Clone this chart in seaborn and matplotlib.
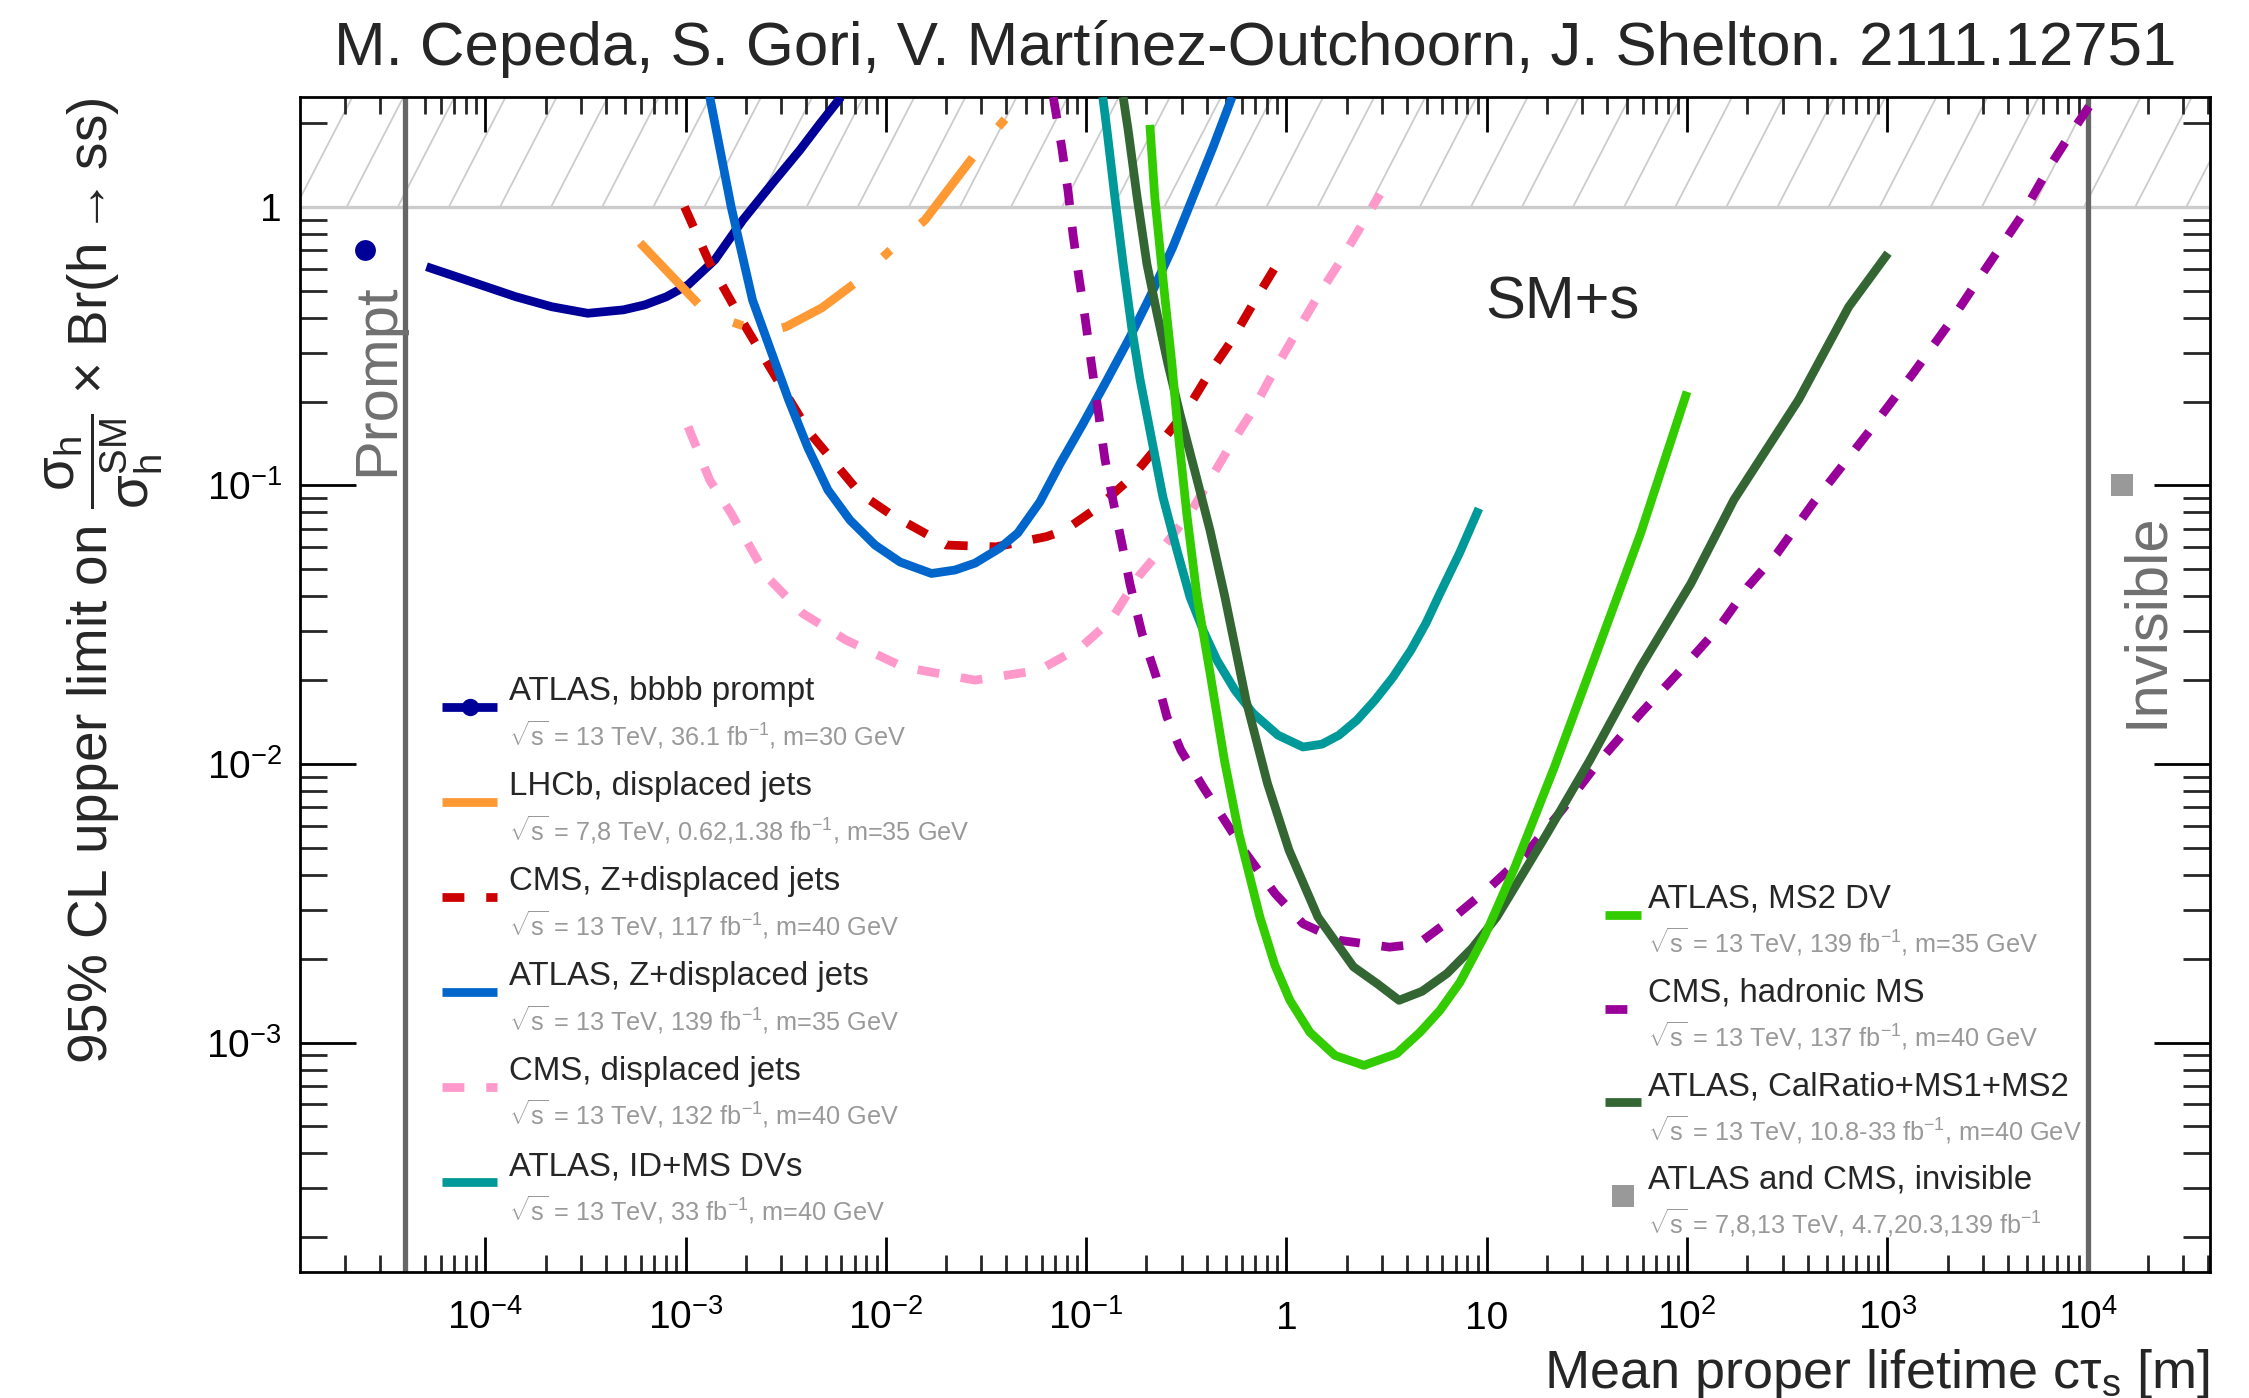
import numpy as np
import pandas as pd
import matplotlib
matplotlib.use("Agg")
import matplotlib.pyplot as plt
import seaborn as sns
from matplotlib.lines import Line2D
from matplotlib.collections import LineCollection
from matplotlib.legend_handler import HandlerLine2D
from matplotlib import ticker

# ------------------------------------------------------------------
# 95% CL upper limits on sigma_h/sigma_h^SM x Br(h -> ss) vs c*tau_s [m]
# ------------------------------------------------------------------
atlas_bbbb_ctau = [5.09e-5, 8.0e-5, 1.42e-4, 2.15e-4, 3.25e-4, 4.9e-4, 6.27e-4, 8.04e-4,
                   1.03e-3, 1.40e-3, 1.934e-3, 2.70e-3, 3.725e-3, 4.69e-3, 5.97e-3]
atlas_bbbb_lim = [0.61, 0.547, 0.476, 0.438, 0.415, 0.427, 0.445, 0.476,
                  0.525, 0.645, 0.898, 1.21, 1.60, 1.99, 2.48]
atlas_bbbb_prompt_ctau = [2.5e-5]
atlas_bbbb_prompt_lim = [0.70]

lhcb_ctau = [5.93e-4, 1.17e-3, 1.49e-3, 2.09e-3, 2.63e-3, 3.17e-3, 4.79e-3, 7.15e-3,
             1.03e-2, 1.57e-2, 2.78e-2, 4.17e-2]
lhcb_lim = [0.743, 0.445, 0.399, 0.3675, 0.359, 0.371, 0.434, 0.538,
            0.689, 0.898, 1.54, 2.17]

cms_zdj_ctau = [9.89e-4, 1.32e-3, 1.99e-3, 2.88e-3, 4.18e-3, 7.43e-3, 1.04e-2, 2.0e-2,
                3.55e-2, 6.34e-2, 7.84e-2, 0.1148, 0.169, 0.233, 0.318, 0.406, 0.535,
                0.681, 0.898, 1.0]
cms_zdj_lim = [1.0, 0.628, 0.372, 0.239, 0.154, 0.0937, 0.0794, 0.0611,
               0.0602, 0.0655, 0.0691, 0.0836, 0.107, 0.141, 0.1866, 0.249, 0.333,
               0.449, 0.624, 0.672]

atlas_zdj_ctau = [1.32e-3, 1.69e-3, 2.16e-3, 3.27e-3, 4.087e-3, 5.14e-3, 6.62e-3, 8.83e-3,
                  1.177e-2, 1.69e-2, 2.213e-2, 2.786e-2, 3.71e-2, 4.56e-2, 5.87e-2,
                  7.38e-2, 9.62e-2, 0.127, 0.1655, 0.208, 0.271, 0.3415, 0.43, 0.535]
atlas_zdj_lim = [2.49, 1.0, 0.463, 0.203, 0.1362, 0.0963, 0.0751, 0.0611,
                 0.0531, 0.0483, 0.0497, 0.0526, 0.0596, 0.0675, 0.0872,
                 0.119, 0.166, 0.239, 0.341, 0.475, 0.718, 1.086, 1.64, 2.48]

cms_dj_ctau = [1.03e-3, 1.32e-3, 1.69e-3, 2.55e-3, 3.85e-3, 6.3e-3, 1.22e-2, 2.78e-2,
               5.8e-2, 9.5e-2, 0.133, 0.182, 0.247, 0.337, 0.415, 0.532, 0.681, 0.872,
               1.115, 1.43, 1.83, 2.35, 2.93]
cms_dj_lim = [0.1625, 0.1046, 0.0794, 0.047, 0.0347, 0.0279, 0.0223, 0.020,
              0.0217, 0.0264, 0.0328, 0.047, 0.061, 0.0816, 0.1046, 0.1416, 0.1865, 0.26,
              0.352, 0.476, 0.628, 0.85, 1.11]

atlas_idms_ctau = [0.121, 0.127, 0.139, 0.153, 0.1694, 0.186, 0.208, 0.2417, 0.2838,
                   0.33, 0.3873, 0.4494, 0.553, 0.680, 0.9067, 1.208, 1.503, 1.828,
                   2.247, 2.764, 3.401, 4.182, 4.970, 5.836, 7.345, 9.137]
atlas_idms_lim = [2.48, 1.89, 1.086, 0.624, 0.3615, 0.239, 0.158, 0.0908, 0.0586,
                  0.0397, 0.02974, 0.0236, 0.01841, 0.01522, 0.01269, 0.01151, 0.01178,
                  0.01269, 0.01437, 0.01695, 0.0205, 0.02563, 0.03203, 0.04096, 0.05764,
                  0.0827]

atlas_ms2_ctau = [0.208, 0.22, 0.233, 0.247, 0.268, 0.287, 0.318, 0.358, 0.4147, 0.4898,
                  0.5787, 0.7368, 0.8754, 1.040, 1.309, 1.745, 2.435, 3.547, 4.636, 5.836,
                  7.345, 9.79, 13.82, 21.77, 35.7, 58.6, 99.9]
atlas_ms2_lim = [1.97, 1.086, 0.718, 0.475, 0.273, 0.158, 0.0789, 0.0397, 0.02137, 0.01032,
                 0.005629, 0.002824, 0.001894, 0.001418, 0.001088, 0.000899, 0.000828,
                 0.000912, 0.001088, 0.001305, 0.001645, 0.002427, 0.004271, 0.00977,
                 0.0256, 0.0673, 0.217]

cms_hms_ctau = [0.0685, 0.0755, 0.0811, 0.0859, 0.092, 0.0986, 0.108, 0.116, 0.124, 0.136,
                0.151, 0.1655, 0.19, 0.2235, 0.253, 0.297, 0.383, 0.49, 0.628, 0.876,
                1.21, 1.83, 3.27, 4.54, 6.86, 10.4, 15.7, 23.7, 35.7, 58.6, 96.1, 145.0,
                201.0, 281.0, 425.0, 820.0, 1345.0, 2037.0, 3066.0, 4645.0, 6457.0,
                8253.0, 10140.0]
cms_hms_lim = [2.48, 1.64, 1.15, 0.80, 0.56, 0.403, 0.251, 0.176, 0.1245, 0.0887,
               0.0616, 0.0442, 0.0294, 0.0206, 0.01476, 0.01121, 0.00828, 0.00629, 0.00477,
               0.00343, 0.00267, 0.00233, 0.0022, 0.00226, 0.00282, 0.00362, 0.00477,
               0.00683, 0.01004, 0.0152, 0.0223, 0.0311, 0.0433, 0.057, 0.0863, 0.158,
               0.253, 0.382, 0.594, 0.923, 1.396, 1.84, 2.29]

atlas_calr_ctau = [0.153, 0.162, 0.1795, 0.201, 0.226, 0.256, 0.294, 0.358, 0.415, 0.493,
                   0.628, 0.804, 1.03, 1.436, 2.16, 2.863, 3.646, 4.750, 6.33, 8.44, 11.2,
                   20.0, 32.7, 58.6, 104.5, 171.0, 360.0, 641.0, 1007.0]
atlas_calr_lim = [2.48, 1.89, 1.086, 0.624, 0.413, 0.273, 0.1805, 0.1046, 0.0691, 0.0397,
                  0.01694, 0.00851, 0.0049, 0.00282, 0.00187, 0.001619, 0.001418, 0.001527,
                  0.00177, 0.00218, 0.00282, 0.00563, 0.01032, 0.0223, 0.0445, 0.0887,
                  0.203, 0.438, 0.682]

invisible_ctau = [1.49e4]
invisible_lim = [0.10]

# axis ticks
xtick_vals = [1e-4, 1e-3, 1e-2, 1e-1, 1, 10, 1e2, 1e3, 1e4]
xtick_labels = [r"$10^{-4}$", r"$10^{-3}$", r"$10^{-2}$", r"$10^{-1}$", "1", "10",
                r"$10^{2}$", r"$10^{3}$", r"$10^{4}$"]
ytick_vals = [1e-3, 1e-2, 1e-1, 1]
ytick_labels = [r"$10^{-3}$", r"$10^{-2}$", r"$10^{-1}$", "1"]

# legend text
left_names = ["ATLAS, bbbb prompt", "LHCb, displaced jets", "CMS, Z+displaced jets",
              "ATLAS, Z+displaced jets", "CMS, displaced jets", "ATLAS, ID+MS DVs"]
left_info = [r"$\sqrt{s}$ = 13 TeV, 36.1 fb$^{-1}$, m=30 GeV",
             r"$\sqrt{s}$ = 7,8 TeV, 0.62,1.38 fb$^{-1}$, m=35 GeV",
             r"$\sqrt{s}$ = 13 TeV, 117 fb$^{-1}$, m=40 GeV",
             r"$\sqrt{s}$ = 13 TeV, 139 fb$^{-1}$, m=35 GeV",
             r"$\sqrt{s}$ = 13 TeV, 132 fb$^{-1}$, m=40 GeV",
             r"$\sqrt{s}$ = 13 TeV, 33 fb$^{-1}$, m=40 GeV"]
right_names = ["ATLAS, MS2 DV", "CMS, hadronic MS", "ATLAS, CalRatio+MS1+MS2",
               "ATLAS and CMS, invisible"]
right_info = [r"$\sqrt{s}$ = 13 TeV, 139 fb$^{-1}$, m=35 GeV",
              r"$\sqrt{s}$ = 13 TeV, 137 fb$^{-1}$, m=40 GeV",
              r"$\sqrt{s}$ = 13 TeV, 10.8-33 fb$^{-1}$, m=40 GeV",
              r"$\sqrt{s}$ = 7,8,13 TeV, 4.7,20.3,139 fb$^{-1}$"]

# ------------------------------------------------------------------
sns.set_theme(style="ticks")
plt.rcParams.update({
    "mathtext.fontset": "custom",
    "mathtext.rm": "Liberation Sans",
    "mathtext.it": "Liberation Sans:italic",
    "mathtext.bf": "Liberation Sans:bold",
    "mathtext.sf": "Liberation Sans",
    "mathtext.default": "regular",
    "axes.linewidth": 2.0,
    "axes.edgecolor": "black",
    "axes.facecolor": "white",
    "figure.facecolor": "white",
})
plt.rcParams["font.family"] = ["Liberation Sans", "DejaVu Sans"]

DPI = 100
LW = 6.3
fig = plt.figure(figsize=(22.49, 13.98), dpi=DPI)
ax = fig.add_axes([0.1334, 0.0901, 0.8493, 0.8405])
ax.set_xscale("log")
ax.set_yscale("log")
XLIM = (1.19e-5, 4.08e4)
YLIM = (1.5e-4, 2.48)
ax.set_xlim(*XLIM)
ax.set_ylim(*YLIM)

DASH = (2.5, 2.5)
DASHDOT = (9.6, 4.6, 1.15, 4.6)
series = [
    ("#000099", atlas_bbbb_ctau, atlas_bbbb_lim, None),
    ("#cc0000", cms_zdj_ctau, cms_zdj_lim, DASH),
    ("#0066cc", atlas_zdj_ctau, atlas_zdj_lim, None),
    ("#ff9933", lhcb_ctau, lhcb_lim, DASHDOT),
    ("#ff99cc", cms_dj_ctau, cms_dj_lim, DASH),
    ("#009999", atlas_idms_ctau, atlas_idms_lim, None),
    ("#990099", cms_hms_ctau, cms_hms_lim, DASH),
    ("#336633", atlas_calr_ctau, atlas_calr_lim, None),
    ("#33cc00", atlas_ms2_ctau, atlas_ms2_lim, None),
]
lines = {}
for color, xs, ys, dash in series:
    df = pd.DataFrame({"ctau": xs, "limit": ys})
    sns.lineplot(data=df, x="ctau", y="limit", ax=ax, color=color, lw=LW,
                 sort=False, estimator=None, legend=False, zorder=3)
    ln = ax.lines[-1]
    ln.set_solid_capstyle("butt")
    ln.set_dash_capstyle("butt")
    ln.set_solid_joinstyle("round")
    if dash is not None:
        ln.set_dashes(dash)
    lines[color] = ln

sns.scatterplot(x=atlas_bbbb_prompt_ctau, y=atlas_bbbb_prompt_lim, ax=ax, color="#000099",
                s=15.0 ** 2, marker="o", linewidth=0, zorder=4, legend=False)
sns.scatterplot(x=invisible_ctau, y=invisible_lim, ax=ax, color="#999999",
                s=15.8 ** 2, marker="s", linewidth=0, zorder=4, legend=False)

# prompt / invisible boundaries and the excluded region above 1
ax.axvline(4e-5, color="#666666", lw=3.8, zorder=2)
ax.axvline(1e4, color="#666666", lw=3.8, zorder=2)
ax.axhline(1.0, color="#cccccc", lw=2.4, zorder=1)

ax.set_xlim(*XLIM)
ax.set_ylim(*YLIM)
HATCH_ANGLE = 62.7
HATCH_STEP = 51.1
y1_disp = ax.transData.transform((1.0, 1.0))[1]
abox = ax.bbox
top = abox.y1
shift = (top - y1_disp) / np.tan(np.radians(HATCH_ANGLE))
xs0 = abox.x0 - 4.4 + HATCH_STEP * np.arange(-3, 40)
inv = ax.transAxes.inverted()
segs = [inv.transform([(x, y1_disp), (x + shift, top)]) for x in xs0]
ax.add_collection(LineCollection(segs, transform=ax.transAxes, colors="#cccccc",
                                 linewidths=1.3, zorder=0.5), autolim=False)

# ticks
ax.set_xticks(xtick_vals, labels=xtick_labels)
ax.set_yticks(ytick_vals, labels=ytick_labels)
ax.xaxis.set_minor_locator(ticker.LogLocator(base=10, subs=np.arange(2, 10), numticks=100))
ax.yaxis.set_minor_locator(ticker.LogLocator(base=10, subs=np.arange(2, 10), numticks=100))
ax.xaxis.set_minor_formatter(ticker.NullFormatter())
ax.yaxis.set_minor_formatter(ticker.NullFormatter())
ax.tick_params(axis="x", which="major", direction="in", length=25, width=2, top=True,
               bottom=True, labelsize=28, pad=41, colors="black")
ax.tick_params(axis="x", which="minor", direction="in", length=12.5, width=2, top=True,
               bottom=True)
ax.tick_params(axis="y", which="major", direction="in", length=40, width=2, left=True,
               right=True, labelsize=28, pad=13, colors="black")
ax.tick_params(axis="y", which="minor", direction="in", length=19.5, width=2, left=True,
               right=True)
for t in ax.xaxis.get_major_ticks():
    t.label1.set_verticalalignment("baseline")
ax.set_xlim(*XLIM)
ax.set_ylim(*YLIM)

# titles
ax.set_title("M. Cepeda, S. Gori, V. Martínez-Outchoorn, J. Shelton. 2111.12751",
             fontsize=44.5, pad=23)
ax.set_xlabel(r"Mean proper lifetime c$\tau_{s}$ [m]", fontsize=39, loc="right")
ax.xaxis.label.set_verticalalignment("baseline")
ax.xaxis.set_label_coords(1.0, -0.0987)
ax.set_ylabel(r"95% CL upper limit on $\dfrac{\sigma_{h}}{\sigma_{h}^{SM}}$ $\times$ Br(h$\rightarrow$ss)",
              fontsize=39.5, loc="top")
ax.yaxis.label.set_verticalalignment("baseline")
ax.yaxis.set_label_coords(-0.1008, 1.0)

ax.text(0.6607, 0.8116, "SM+s", fontsize=43, ha="center", va="baseline",
        transform=ax.transAxes)
ax.text(0.0487, 0.7591, "Prompt", fontsize=43, color="#707070", rotation=90,
        rotation_mode="anchor", ha="center", va="baseline", transform=ax.transAxes)
ax.text(0.9749, 0.5549, "Invisible", fontsize=43, color="#707070", rotation=90,
        rotation_mode="anchor", ha="center", va="baseline", transform=ax.transAxes)

# ------------------------------------------------------------------
# legends: handle sits just under the text baseline, grey detail line below
# ------------------------------------------------------------------
LEG_FS = 23.8
SUB_FS = 18.2
FS_PX = LEG_FS * DPI / 72.0
DROP_PT = 0.35 * LEG_FS + 7 * 72.0 / DPI


class DroppedLine(HandlerLine2D):
    def __init__(self, drop, **kw):
        super().__init__(**kw)
        self.drop = drop

    def create_artists(self, legend, orig_handle, xdescent, ydescent, width, height,
                       fontsize, trans):
        arts = super().create_artists(legend, orig_handle, xdescent, ydescent, width,
                                      height, fontsize, trans)
        for a in arts:
            a.set_ydata(np.asarray(a.get_ydata(), dtype=float) - self.drop)
        return arts


prompt_handle = Line2D([], [], color="#000099", lw=LW, marker="o", markersize=12.5,
                       markeredgewidth=0, solid_capstyle="butt")
inv_handle = Line2D([], [], ls="none", marker="s", markersize=16.5, color="#999999",
                    markeredgewidth=0)
left_handles = [prompt_handle, lines["#ff9933"], lines["#cc0000"], lines["#0066cc"],
                lines["#ff99cc"], lines["#009999"]]
right_handles = [lines["#33cc00"], lines["#990099"], lines["#336633"], inv_handle]

H = fig.bbox.height


def to_axes(xpx, ypx_top):
    return tuple(ax.transAxes.inverted().transform((xpx, H - ypx_top)))


def baseline_of(txt, renderer):
    bb = txt.get_window_extent(renderer)
    _, _, d = renderer.get_text_width_height_descent("lp", txt.get_fontproperties(),
                                                     ismath=False)
    return bb.x0, bb.y0 + d


def fit_legend(handles, labels, text_x, first_base, pitch, hlen_px, hpad_px):
    spacing = 1.9
    anchor = [text_x - hlen_px - hpad_px, first_base - 30.0]
    leg = None
    for _ in range(4):
        if leg is not None:
            leg.remove()
        leg = ax.legend(handles, labels, loc="upper left",
                        bbox_to_anchor=to_axes(*anchor), bbox_transform=ax.transAxes,
                        frameon=False, borderpad=0, borderaxespad=0, fontsize=LEG_FS,
                        handlelength=hlen_px / FS_PX, handletextpad=hpad_px / FS_PX,
                        labelspacing=spacing, numpoints=1,
                        handler_map={Line2D: DroppedLine(DROP_PT)})
        fig.canvas.draw()
        r = fig.canvas.get_renderer()
        texts = leg.get_texts()
        x0, b0 = baseline_of(texts[0], r)
        _, b1 = baseline_of(texts[1], r)
        spacing += (pitch - (b0 - b1)) / FS_PX
        anchor[0] += text_x - x0
        anchor[1] += first_base - (H - b0)
    return leg


leg_left = fit_legend(left_handles, left_names, 509, 700, 95.0, 55, 12)
ax.add_artist(leg_left)
leg_right = fit_legend(right_handles, right_names, 1648, 908, 93.5, 36, 7)

fig.canvas.draw()
r = fig.canvas.get_renderer()
for leg, infos in ((leg_left, left_info), (leg_right, right_info)):
    for txt, info in zip(leg.get_texts(), infos):
        x0, b = baseline_of(txt, r)
        pos = ax.transAxes.inverted().transform((x0, b - 45))
        ax.text(pos[0], pos[1], info, fontsize=SUB_FS, color="#999999", ha="left",
                va="baseline", transform=ax.transAxes)

fig.savefig("out.png", dpi=DPI)
